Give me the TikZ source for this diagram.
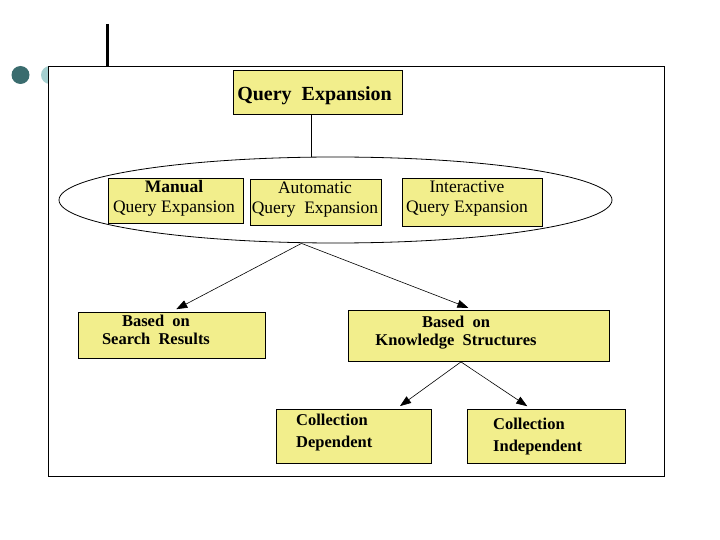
\documentclass[tikz,border=0pt]{standalone}
\usepackage{fontspec}
\setmainfont{Liberation Serif}
\usetikzlibrary{arrows.meta,shapes.geometric}
\definecolor{boxyellow}{RGB}{242,238,140}
\definecolor{dotdark}{RGB}{58,108,110}
\definecolor{dotlight}{RGB}{165,208,208}
\begin{document}
\begin{tikzpicture}[x=1pt,y=-1pt,
  box/.style={draw, fill=boxyellow, line width=0.9pt, anchor=north west, inner sep=0pt},
  txt/.style={inner sep=0pt, font=\fontsize{17.5}{20}\selectfont},
  btxt/.style={inner sep=0pt, font=\fontsize{16.5}{18}\selectfont\bfseries},
  arr/.style={line width=0.6pt, -{Triangle[length=11pt,width=8pt]}}]
\useasboundingbox (0,0) rectangle (720,540);
\fill[white] (0,0) rectangle (720,540);
% decoration
\fill[dotdark] (20.5,75) circle (9);
\fill[dotlight] (50,75) circle (9);
\draw[line width=3pt] (107,24) -- (107,66);
\draw[fill=white, line width=0.8pt] (48,66) rectangle (664,476);
% top box
\node[box, minimum width=169pt, minimum height=44pt] (qe) at (233,70) {};
\node[inner sep=0pt, font=\fontsize{20}{22}\selectfont\bfseries] (qet) at (314.5,95.5) {Query\ \ Expansion};
% ellipse
\node[draw, ellipse, line width=0.8pt, minimum width=553pt, minimum height=86pt, inner sep=0pt] (ell) at (335.5,200) {};
\coordinate (qes) at ([xshift=-6.5pt]qe.south);
\draw[line width=0.7pt] (qes) -- (qes |- ell.north);
% three boxes
\node[box, minimum width=135pt, minimum height=45pt] (man) at (108,178) {};
\node[txt, align=center] (mant) at (174,198.5) {\textbf{Manual}\\Query Expansion};
\node[box, minimum width=131pt, minimum height=46pt] (aut) at (250,179) {};
\node[txt, align=center] (autt) at (315,200) {Automatic\\Query\ \ Expansion};
\node[box, minimum width=140pt, minimum height=48pt] (int) at (402,178) {};
\node[txt, align=center] (intt) at (467,198.5) {Interactive\\Query Expansion};
% second level
\node[box, minimum width=187pt, minimum height=46pt] (sr) at (78,312) {};
\node[btxt, align=center] (srt) at (156,330) {Based\ \ on\\Search\ \ Results};
\node[box, minimum width=261pt, minimum height=51pt] (ks) at (348,310) {};
\node[btxt, align=center] (kst) at (456,332.5) {Based\ \ on\\Knowledge\ \ Structures};
% third level
\node[box, minimum width=155pt, minimum height=54pt] (cd) at (276,409) {};
\node[btxt, align=left, anchor=west, font=\fontsize{16.5}{22}\selectfont\bfseries] (cdt) at (296,433) {Collection\\Dependent};
\node[box, minimum width=158pt, minimum height=54pt] (ci) at (467,409) {};
\node[btxt, align=left, anchor=west, font=\fontsize{16.5}{22}\selectfont\bfseries] (cit) at (493,436.5) {Collection\\Independent};
% arrows
\coordinate (es) at ([xshift=-34pt]ell.south);
\draw[arr, shorten >=6pt] (es) -- ([xshift=-1pt]sr.north);
\draw[arr, shorten >=6pt] (es) -- ([xshift=-5pt]ks.north);
\coordinate (kss) at ([xshift=-18pt]ks.south);
\draw[arr, shorten >=5pt] (kss) -- ([xshift=42pt]cd.north);
\draw[arr, shorten >=5pt] (kss) -- ([xshift=-15pt]ci.north);
\end{tikzpicture}
\end{document}
